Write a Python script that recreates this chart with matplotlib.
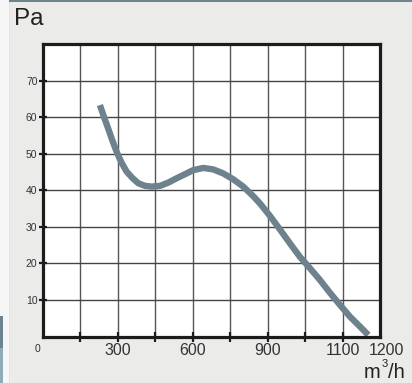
import matplotlib
matplotlib.use("Agg")
import matplotlib.pyplot as plt
from matplotlib.patches import Rectangle

plt.rcParams['font.family'] = ['Liberation Sans', 'DejaVu Sans']

# Data (airflow m3/h on the chart's grid scale, pressure Pa)
flow = [228, 244, 262, 278, 295, 315, 335, 359, 382, 409, 435, 469, 502, 536, 569, 602,
        642, 682, 722, 762, 802, 842, 869, 909, 949, 989, 1029, 1069, 1109, 1149, 1190,
        1230, 1270, 1303]
pressure = [63.3, 60.1, 56.7, 53.6, 50.5, 47.5, 45.1, 43.3, 41.9, 41.2, 41.0, 41.2, 42.1,
            43.3, 44.4, 45.5, 46.1, 45.7, 44.6, 43.0, 41.0, 38.4, 36.4, 33.0, 29.3, 25.5,
            21.8, 18.7, 15.5, 12.0, 8.6, 5.4, 2.7, 0.4]

y_ticks = [10, 20, 30, 40, 50, 60, 70]
y_tick_labels = ["10", "20", "30", "40", "50", "60", "70"]
x_grid = [150, 300, 450, 600, 750, 900, 1050, 1200]
x_label_pos = [300, 600, 900, 1200, 1375]
x_label_text = ["300", "600", "900", "1100", "1200"]

W, H = 412, 383
fig = plt.figure(figsize=(W / 100, H / 100), dpi=100)
fig.patch.set_facecolor('#ebebea')

# left strip and decorations
def px_rect(x0, y0, w, h, color):
    fig.patches.append(Rectangle((x0 / W, 1 - (y0 + h) / H), w / W, h / H,
                                 transform=fig.transFigure, facecolor=color,
                                 edgecolor='none', zorder=0))

px_rect(0, 0, 9, H, '#f6f6f6')
px_rect(9, 0, 1, H, '#e2e2e2')
px_rect(0, 316, 2.5, 32, '#6d8490')
px_rect(0, 348, 2.5, 35, '#90abb8')
px_rect(9, 0, W - 9, 1.8, '#6d8490')

ax = fig.add_axes([43 / W, 1 - 336.5 / H, (380 - 43) / W, (336.5 - 44) / H])
ax.set_facecolor('white')
ax.set_xlim(0, 1350)
ax.set_ylim(0, 80)

# grid
for xv in x_grid:
    ax.axvline(xv, color='#555555', lw=1.0, zorder=1)
for yv in y_ticks:
    ax.axhline(yv, color='#444444', lw=1.0, zorder=1)

ax.plot(flow, pressure, color='#6d828c', lw=4.6, solid_capstyle='butt',
        solid_joinstyle='round', zorder=3)

for s in ax.spines.values():
    s.set_linewidth(2.3)
    s.set_color('#1c1c1c')
    s.set_zorder(4)

ax.set_yticks(y_ticks)
ax.set_yticklabels(y_tick_labels, fontsize=7.5, color='#333333')
ax.tick_params(axis='y', direction='inout', length=6, width=1.6, pad=1, color='#1c1c1c')
ax.set_xticks(x_grid)
ax.set_xticklabels([])
ax.tick_params(axis='x', direction='inout', length=6.5, width=1.6, color='#1c1c1c')

for xp, t in zip(x_label_pos, x_label_text):
    ax.text(xp, -3.7, t, ha='center', va='center', fontsize=11.5, color='#333333',
            clip_on=False)
ax.text(-22, -3.4, "0", ha='center', va='center', fontsize=7.5, color='#333333', clip_on=False)

fig.text(364 / W, 1 - 378 / H, "m", ha='left', va='baseline', fontsize=14.5, color='#222222')
fig.text(382 / W, 1 - 367 / H, "3", ha='left', va='baseline', fontsize=8, color='#222222')
fig.text(387.5 / W, 1 - 378 / H, "/h", ha='left', va='baseline', fontsize=14.5, color='#222222')
fig.text(14 / W, 1 - 25 / H, "Pa", ha='left', va='baseline', fontsize=17.5, color='#222222')

fig.savefig("out.png", dpi=100, facecolor=fig.get_facecolor())
